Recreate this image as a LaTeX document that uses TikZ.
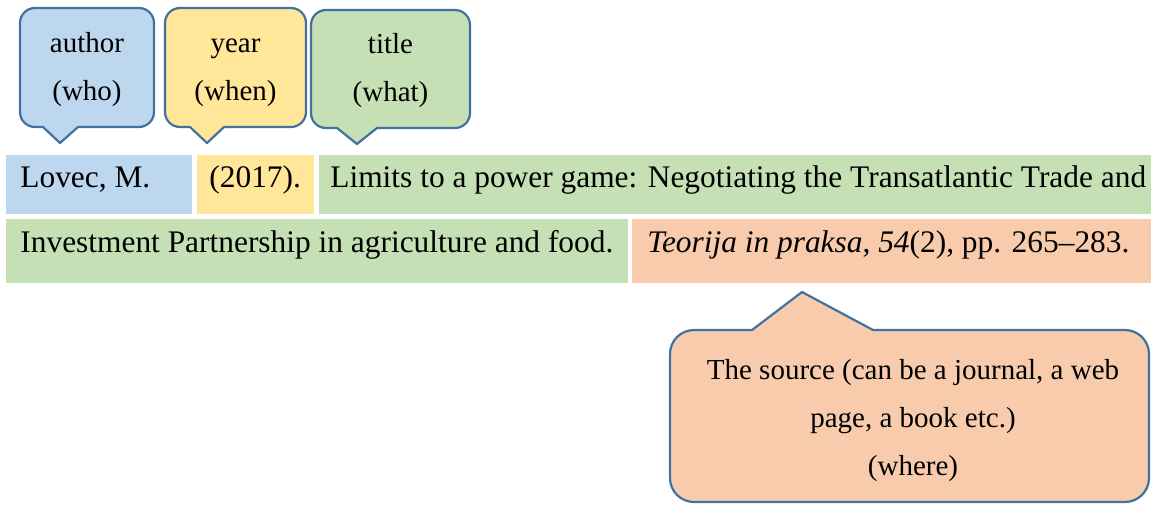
\documentclass[tikz,border=0pt]{standalone}
\usepackage{fontspec}
\setmainfont{Liberation Serif}
\usepackage{tikz}

\definecolor{whoblue}{HTML}{BDD7EE}
\definecolor{whenyellow}{HTML}{FFE699}
\definecolor{whatgreen}{HTML}{C5E0B4}
\definecolor{wherepeach}{HTML}{F8CBAD}
\definecolor{calloutline}{HTML}{41719C}

\newcommand\rowfont{\fontsize{15.7}{19}\selectfont}
\newcommand\tagfont{\fontsize{14.5}{24}\selectfont}

\tikzset{
	callout/.style={draw=calloutline,line width=1.1pt,line join=round},
	rowtext/.style={anchor=base west,inner sep=0pt,font=\rowfont},
	tagtext/.style={anchor=base,inner sep=0pt,align=center,font=\tagfont}
}

\begin{document}
\begin{tikzpicture}[x=0.5pt,y=-0.5pt]
	\useasboundingbox (0,0) rectangle (1151,504);
	
	\fill[whoblue] (6,155) rectangle (192,214);
	\fill[whenyellow] (197,155) rectangle (314,214);
	\fill[whatgreen] (319,155) rectangle (1151,214);
	\fill[whatgreen] (6,219) rectangle (628,283);
	\fill[wherepeach] (632,219) rectangle (1151,283);
	
	\node[rowtext] (lovec) at (20,187) {Lovec, M.};
	\node[rowtext] (year) at (209,187) {(2017).};
	\node[rowtext] (title) at (330,187) {Limits to a power game: Negotiating the Transatlantic Trade and};
	\node[rowtext] (title2) at (20,252) {Investment Partnership in agriculture and food.};
	\node[rowtext] (source) at (647,252) {\textit{Teorija in praksa}, \textit{54}(2), pp. 265--283.};
	
	\draw[callout,fill=whoblue] (20,70) [rounded corners=7.5pt] -- (20,8) -- (154,8) -- (154,127) [sharp corners] -- (78,127) -- (60,143) -- (43,127) [rounded corners=7.5pt] -- (20,127) -- cycle;
	\draw[callout,fill=whenyellow] (165,70) [rounded corners=7.5pt] -- (165,8) -- (306,8) -- (306,127) [sharp corners] -- (224,127) -- (207,143) -- (190,127) [rounded corners=7.5pt] -- (165,127) -- cycle;
	\draw[callout,fill=whatgreen] (311,70) [rounded corners=7.5pt] -- (311,10) -- (470,10) -- (470,128) [sharp corners] -- (377,128) -- (357,144) -- (337,128) [rounded corners=7.5pt] -- (311,128) -- cycle;
	\draw[callout,fill=wherepeach] (670,420) [rounded corners=12pt] -- (670,330) [sharp corners] -- (752,330) -- (802,292) -- (873,330) [rounded corners=12pt] -- (1149,330) -- (1149,502) -- (670,502) -- cycle;
	
	\node[tagtext] (who) at (87,100) {author\\(who)};
	\node[tagtext] (when) at (235.5,100) {year\\(when)};
	\node[tagtext] (what) at (390.5,101) {title\\(what)};
	\node[tagtext] (where) at (913,475) {The source (can be a journal, a web\\page, a book etc.)\\(where)};
\end{tikzpicture}
\end{document}
